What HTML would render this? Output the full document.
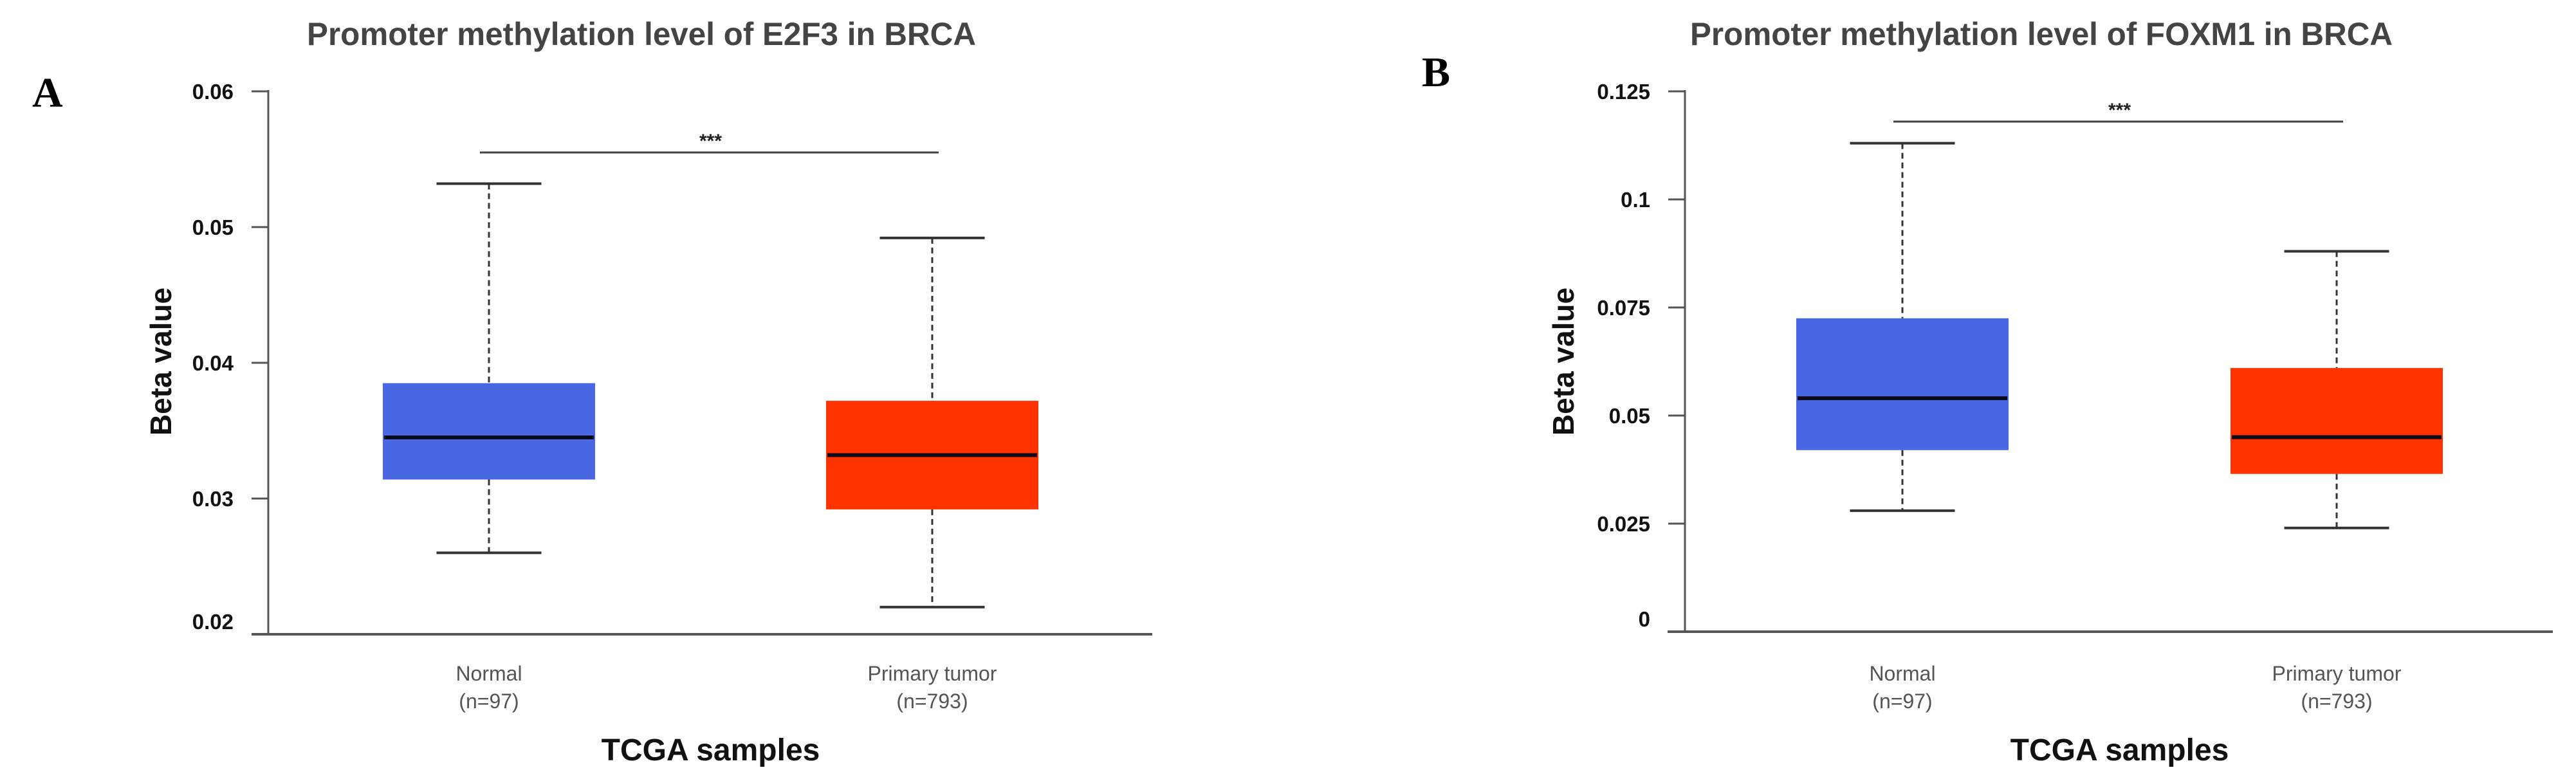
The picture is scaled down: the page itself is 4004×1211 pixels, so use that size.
<!DOCTYPE html>
<html><head><meta charset="utf-8"><style>
html,body{margin:0;padding:0;background:#fff;}
svg{display:block;}
text{font-family:"Liberation Sans",sans-serif;}
</style></head><body>
<svg id="fig" width="4004" height="1211" viewBox="0 0 4004 1211" xmlns="http://www.w3.org/2000/svg">
<text x="50" y="166" font-family="Liberation Serif" font-weight="bold" font-size="66" style="font-family:'Liberation Serif',serif">A</text>
<text x="2210" y="134" font-family="Liberation Serif" font-weight="bold" font-size="66" style="font-family:'Liberation Serif',serif">B</text>
</svg>
<script>
const categories = ["Normal", "Primary tumor"];
const counts = ["(n=97)", "(n=793)"];
const titleA = "Promoter methylation level of E2F3 in BRCA";
const ticksA = [0.02, 0.03, 0.04, 0.05, 0.06];
const tickLabelsA = ["0.02", "0.03", "0.04", "0.05", "0.06"];
const minA = [0.026, 0.022];
const q1A = [0.0314, 0.0292];
const medA = [0.0345, 0.0332];
const q3A = [0.0385, 0.0372];
const maxA = [0.0532, 0.0492];
const sigA = 0.0555;

const titleB = "Promoter methylation level of FOXM1 in BRCA";
const ticksB = [0, 0.025, 0.05, 0.075, 0.1, 0.125];
const tickLabelsB = ["0", "0.025", "0.05", "0.075", "0.1", "0.125"];
const minB = [0.028, 0.024];
const q1B = [0.042, 0.0365];
const medB = [0.054, 0.045];
const q3B = [0.0725, 0.061];
const maxB = [0.113, 0.088];
const sigB = 0.118;

const svg = document.getElementById('fig');
const NS = 'http://www.w3.org/2000/svg';
function mk(tag, attrs, name){
  const e = document.createElementNS(NS, tag);
  for (const k in attrs) e.setAttribute(k, attrs[k]);
  svg.appendChild(e);
  return e;
}

function panel(cfg){
  const y = v => cfg.y0 - (v - cfg.vmin) / (cfg.vmax - cfg.vmin) * (cfg.y0 - cfg.y1);
  const x = i => cfg.cx[i];
  let t = mk('text', {x: cfg.titleX, y: 70, 'text-anchor': 'middle', 'font-size': 50, 'font-weight': 'bold', fill: '#444', textLength: cfg.titleW, lengthAdjust: 'spacingAndGlyphs'});
  t.textContent = cfg.title;
  
  
  let ax = mk('line', {x1: cfg.ax, y1: y(cfg.vmax) - 2, x2: cfg.ax, y2: cfg.y0, stroke: '#555', 'stroke-width': 3});
  
  
  let xa = mk('line', {x1: cfg.xa1, y1: cfg.y0, x2: cfg.xa2, y2: cfg.y0, stroke: '#555', 'stroke-width': 4});
  
  
  cfg.ticks.forEach((v, i) => {
    if (v !== cfg.vmin) {
      let tk = mk('line', {x1: cfg.ax - 26, y1: y(v), x2: cfg.ax, y2: y(v), stroke: '#555', 'stroke-width': 3});
      
      
    }
    let tl = mk('text', {x: cfg.ax - 54, y: y(v) + (v === cfg.vmin ? -8 : 12), 'text-anchor': 'end', 'font-size': 33, 'font-weight': 'bold', fill: '#111'});
    tl.textContent = cfg.tickLabels[i];
    
    
  });
  let yl = mk('text', {x: 0, y: 0, transform: `translate(${cfg.ylx},${562}) rotate(-90)`, 'text-anchor': 'middle', 'font-size': 46, 'font-weight': 'bold', fill: '#111'});
  yl.textContent = 'Beta value';
  
  
  const colors = ['#4a67e3', '#ff3300'];
  const bw = 330, cw = 163;
  categories.forEach((c, i) => {
    let w1 = mk('line', {x1: x(i), y1: y(cfg.max[i]), x2: x(i), y2: y(cfg.q3[i]), stroke: '#333', 'stroke-width': 3, 'stroke-dasharray': '9 6'});
    
    
    let w2 = mk('line', {x1: x(i), y1: y(cfg.q1[i]), x2: x(i), y2: y(cfg.min[i]), stroke: '#333', 'stroke-width': 3, 'stroke-dasharray': '9 6'});
    
    
    let c1 = mk('line', {x1: x(i) - cw / 2, y1: y(cfg.max[i]), x2: x(i) + cw / 2, y2: y(cfg.max[i]), stroke: '#333', 'stroke-width': 4});
    
    
    let c2 = mk('line', {x1: x(i) - cw / 2, y1: y(cfg.min[i]), x2: x(i) + cw / 2, y2: y(cfg.min[i]), stroke: '#333', 'stroke-width': 4});
    
    
    let b = mk('rect', {x: x(i) - bw / 2, y: y(cfg.q3[i]), width: bw, height: y(cfg.q1[i]) - y(cfg.q3[i]), fill: colors[i]});
    
    
    let m = mk('line', {x1: x(i) - bw / 2 + 2, y1: y(cfg.med[i]), x2: x(i) + bw / 2 - 2, y2: y(cfg.med[i]), stroke: '#0a0a1a', 'stroke-width': 6});
    
    
    let l1 = mk('text', {x: x(i), y: 1058, 'text-anchor': 'middle', 'font-size': 32, fill: '#555'});
    l1.textContent = c;
    
    
    let l2 = mk('text', {x: x(i), y: 1101, 'text-anchor': 'middle', 'font-size': 32, fill: '#555'});
    l2.textContent = counts[i];
    
    
  });
  let sl = mk('line', {x1: x(0) - 14, y1: y(cfg.sig), x2: x(1) + 10, y2: y(cfg.sig), stroke: '#444', 'stroke-width': 3});
  
  
  let st = mk('text', {x: (x(0) + x(1)) / 2, y: y(cfg.sig) - 8, 'text-anchor': 'middle', 'font-size': 30, 'font-weight': 'bold', fill: '#222'});
  st.textContent = '***';
  
  
  let xt = mk('text', {x: (x(0) + x(1)) / 2, y: 1182, 'text-anchor': 'middle', 'font-size': 48, 'font-weight': 'bold', fill: '#111'});
  xt.textContent = 'TCGA samples';
  
  
}

panel({title: titleA, titleX: 997, titleW: 1040, ticks: ticksA, tickLabels: tickLabelsA, vmin: 0.02, vmax: 0.06, y0: 986, y1: 142,
  ax: 417, xa1: 391, xa2: 1791, cx: [760, 1449], ylx: 266,
  min: minA, q1: q1A, med: medA, q3: q3A, max: maxA, sig: sigA});
panel({title: titleB, titleX: 3173, titleW: 1092, ticks: ticksB, tickLabels: tickLabelsB, vmin: 0, vmax: 0.125, y0: 982, y1: 142,
  ax: 2619, xa1: 2592, xa2: 3968, cx: [2957, 3632], ylx: 2446,
  min: minB, q1: q1B, med: medB, q3: q3B, max: maxB, sig: sigB});
</script>
</body></html>
